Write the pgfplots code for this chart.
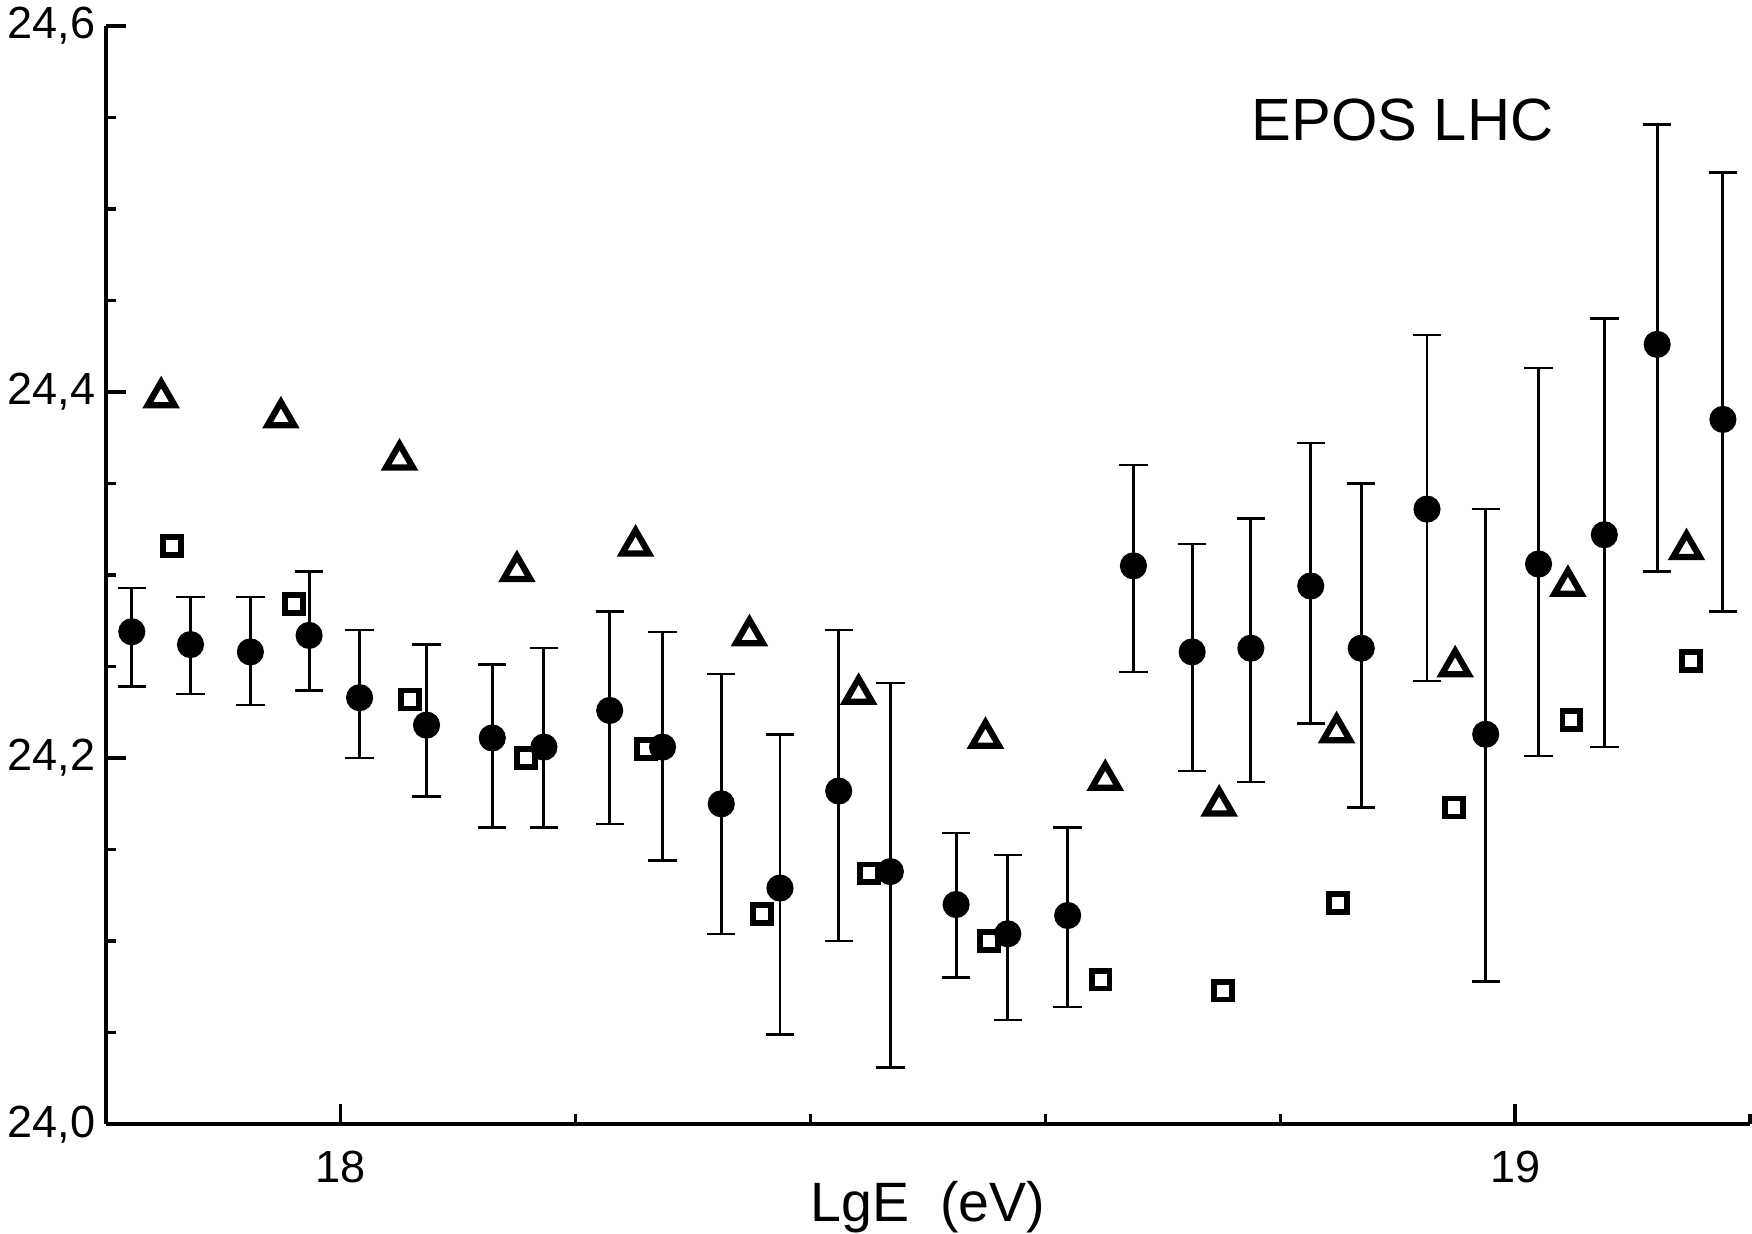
\documentclass[border=0pt]{standalone}
\usepackage{pgfplots}
\pgfplotsset{compat=1.18}
\usepackage{pgfplotstable}
\usepackage{fontspec}
\setmainfont{Liberation Sans}

\pgfplotstableread{
x       y       ep     em
17.822  24.269  0.024  0.030
17.872  24.262  0.026  0.027
17.923  24.258  0.030  0.029
17.973  24.267  0.035  0.030
18.016  24.233  0.037  0.033
18.073  24.218  0.044  0.039
18.129  24.211  0.040  0.049
18.173  24.206  0.054  0.044
18.229  24.226  0.054  0.062
18.274  24.206  0.063  0.062
18.324  24.175  0.071  0.071
18.374  24.129  0.084  0.080
18.424  24.182  0.088  0.082
18.468  24.138  0.103  0.107
18.524  24.120  0.039  0.040
18.568  24.104  0.043  0.047
18.619  24.114  0.048  0.050
18.675  24.305  0.055  0.058
18.725  24.258  0.059  0.065
18.775  24.260  0.071  0.073
18.826  24.294  0.078  0.075
18.869  24.260  0.090  0.087
18.925  24.336  0.095  0.094
18.975  24.213  0.123  0.135
19.020  24.306  0.107  0.105
19.076  24.322  0.118  0.116
19.121  24.426  0.120  0.124
19.177  24.385  0.135  0.105
}\circles

\pgfplotstableread{
x       y
17.847  24.397
17.949  24.386
18.050  24.363
18.150  24.302
18.251  24.316
18.348  24.267
18.441  24.235
18.549  24.211
18.651  24.188
18.748  24.174
18.848  24.214
18.949  24.250
19.045  24.294
19.146  24.314
}\triangles

\pgfplotstableread{
x       y
17.856  24.316
17.960  24.284
18.059  24.232
18.158  24.200
18.260  24.205
18.359  24.115
18.450  24.137
18.552  24.100
18.647  24.079
18.751  24.073
18.849  24.121
18.948  24.173
19.048  24.221
19.150  24.253
}\squares

\begin{document}
\begin{tikzpicture}
\begin{axis}[
  scale only axis,
  width=394.1pt, height=263.3pt,
  xmin=17.8, xmax=19.2, ymin=24.0, ymax=24.6,
  axis lines=left,
  axis line style={-, line width=1pt, black},
  xtick={18,19}, xticklabels={18,19},
  minor xtick={18.2,18.4,18.6,18.8,19.2},
  ytick={24.0,24.2,24.4,24.6},
  yticklabels={{24,0},{24,2},{24,4},{24,6}},
  minor ytick={24.05,24.1,24.15,24.25,24.3,24.35,24.45,24.5,24.55},
  tick align=inside,
  major tick length=4.8pt, minor tick length=2.5pt,
  tick style={black, line width=0.8pt},
  xticklabel style={anchor=base, inner sep=0pt, yshift=-13.9pt, font=\fontsize{10.8}{12}\selectfont},
  yticklabel style={anchor=east, inner sep=0pt, xshift=-2.4pt, font=\fontsize{10.8}{12}\selectfont},
  xlabel={LgE\ \ (eV)},
  xlabel style={at={(axis description cs:0.5,0)}, anchor=base, inner sep=0pt, yshift=-23.3pt, font=\fontsize{13.3}{15}\selectfont},
  clip=false,
]
\coordinate (bl) at (rel axis cs:0,0);
\coordinate (tr) at (rel axis cs:1,1);

\addplot[only marks, mark=*, mark size=3.05pt, black,
  error bars/.cd, y dir=both, y explicit,
  error bar style={line width=0.7pt, black},
  error mark options={black, rotate=90, mark size=3.4pt, line width=0.6pt}]
  table[x=x, y=y, y error plus=ep, y error minus=em] {\circles};

\addplot[only marks, mark=triangle, mark size=3.7pt, black,
  mark options={line width=1.5pt, black, fill=white}]
  table[x=x, y=y] {\triangles};

\addplot[only marks, mark=square, mark size=2.15pt, black,
  mark options={line width=1.4pt, black, fill=white}]
  table[x=x, y=y] {\squares};

\node[anchor=base, inner sep=0pt, font=\fontsize{14.3}{17}\selectfont] at (rel axis cs:0.7886,0.896) {EPOS LHC};
\end{axis}
\pgfresetboundingbox
\path[use as bounding box] ([xshift=-25.4pt,yshift=-26.25pt]bl) rectangle ([xshift=0.5pt,yshift=6.2pt]tr);
\end{tikzpicture}
\end{document}
